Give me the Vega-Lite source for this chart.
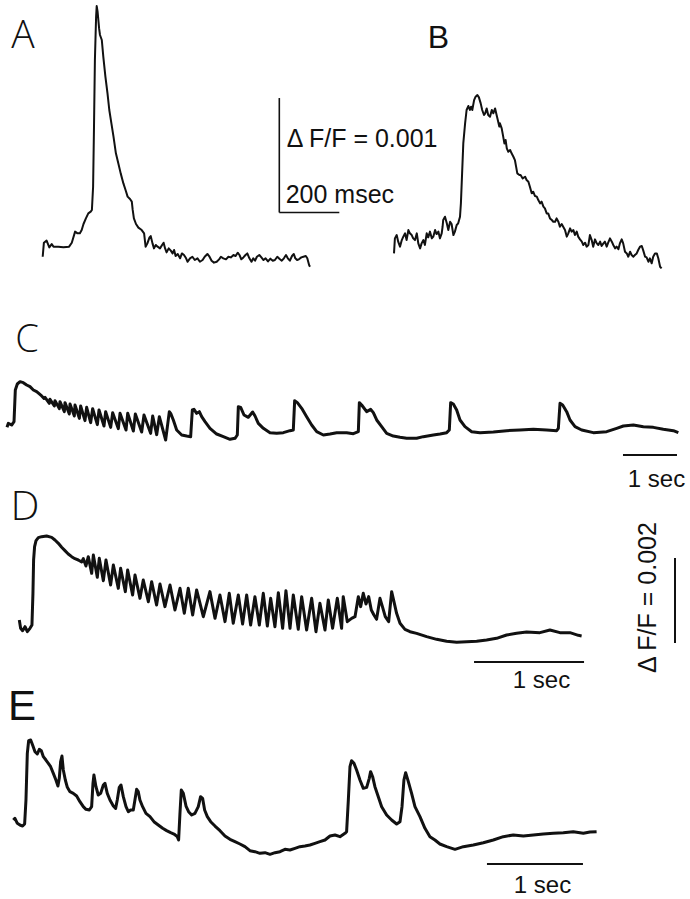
{
  "$schema": "https://vega.github.io/schema/vega-lite/v6.json",
  "padding": 0,
  "autosize": {"type": "pad"},
  "background": "white",
  "spacing": 0,
  "bounds": "flush",
  "config": {"view": {"stroke": null}, "concat": {"spacing": 0}},
  "datasets": {
    "traceA": [{"ms":0,"dff":-0.000085},{"ms":4,"dff":0.000038},{"ms":13,"dff":0.000056},{"ms":22,"dff":-0.000003},{"ms":30,"dff":0.000026},{"ms":36,"dff":0.000003},{"ms":52,"dff":0.000003},{"ms":69,"dff":-0.000003},{"ms":88,"dff":0.000003},{"ms":97,"dff":0.000038},{"ms":108,"dff":0.000135},{"ms":116,"dff":0.00012},{"ms":124,"dff":0.00012},{"ms":130,"dff":0.000149},{"ms":136,"dff":0.000202},{"ms":144,"dff":0.000251},{"ms":152,"dff":0.000295},{"ms":160,"dff":0.00031},{"ms":164,"dff":0.000325},{"ms":168,"dff":0.000529},{"ms":171,"dff":0.001056},{"ms":174,"dff":0.00164},{"ms":178,"dff":0.00202},{"ms":180,"dff":0.002114},{"ms":183,"dff":0.002064},{"ms":188,"dff":0.001918},{"ms":191,"dff":0.00186},{"ms":197,"dff":0.001816},{"ms":202,"dff":0.00167},{"ms":209,"dff":0.001494},{"ms":216,"dff":0.001348},{"ms":222,"dff":0.001202},{"ms":229,"dff":0.001085},{"ms":236,"dff":0.000968},{"ms":244,"dff":0.000822},{"ms":252,"dff":0.000734},{"ms":260,"dff":0.000646},{"ms":269,"dff":0.000558},{"ms":277,"dff":0.000494},{"ms":283,"dff":0.000442},{"ms":291,"dff":0.000421},{"ms":297,"dff":0.000398},{"ms":300,"dff":0.000325},{"ms":304,"dff":0.000251},{"ms":311,"dff":0.000202},{"ms":319,"dff":0.00017},{"ms":330,"dff":0.000149},{"ms":338,"dff":0.00012},{"ms":343,"dff":0.000003},{"ms":349,"dff":0.000032},{"ms":356,"dff":0.000085},{"ms":360,"dff":0.000096},{"ms":366,"dff":0.000032},{"ms":371,"dff":-0.000012},{"ms":377,"dff":0.000018},{"ms":383,"dff":0.000003},{"ms":391,"dff":-0.000012},{"ms":398,"dff":0.000018},{"ms":403,"dff":0.000038},{"ms":408,"dff":-0.000012},{"ms":413,"dff":-0.000047},{"ms":420,"dff":-0.000012},{"ms":427,"dff":-0.000032},{"ms":433,"dff":-0.000056},{"ms":438,"dff":-0.000026},{"ms":443,"dff":-0.000079},{"ms":450,"dff":-0.000061},{"ms":458,"dff":-0.000099},{"ms":464,"dff":-0.000056},{"ms":471,"dff":-0.00007},{"ms":478,"dff":-0.000099},{"ms":483,"dff":-0.000129},{"ms":491,"dff":-0.000099},{"ms":499,"dff":-0.000085},{"ms":507,"dff":-0.000114},{"ms":516,"dff":-0.000099},{"ms":524,"dff":-0.000129},{"ms":533,"dff":-0.000114},{"ms":540,"dff":-0.000085},{"ms":549,"dff":-0.000061},{"ms":556,"dff":-0.000085},{"ms":563,"dff":-0.00012},{"ms":571,"dff":-0.000137},{"ms":580,"dff":-0.000129},{"ms":588,"dff":-0.000108},{"ms":594,"dff":-0.000085},{"ms":602,"dff":-0.000099},{"ms":611,"dff":-0.000108},{"ms":619,"dff":-0.000085},{"ms":627,"dff":-0.000091},{"ms":636,"dff":-0.00007},{"ms":643,"dff":-0.000079},{"ms":650,"dff":-0.00005},{"ms":656,"dff":-0.00007},{"ms":662,"dff":-0.000108},{"ms":669,"dff":-0.000091},{"ms":676,"dff":-0.00007},{"ms":682,"dff":-0.000056},{"ms":689,"dff":-0.000099},{"ms":696,"dff":-0.000129},{"ms":702,"dff":-0.000099},{"ms":708,"dff":-0.00012},{"ms":714,"dff":-0.000085},{"ms":722,"dff":-0.00007},{"ms":729,"dff":-0.000091},{"ms":736,"dff":-0.000114},{"ms":743,"dff":-0.000099},{"ms":751,"dff":-0.000126},{"ms":759,"dff":-0.000102},{"ms":767,"dff":-0.00012},{"ms":774,"dff":-0.000114},{"ms":782,"dff":-0.000085},{"ms":789,"dff":-0.000102},{"ms":797,"dff":-0.00012},{"ms":804,"dff":-0.000099},{"ms":811,"dff":-0.00007},{"ms":817,"dff":-0.000099},{"ms":824,"dff":-0.00012},{"ms":831,"dff":-0.000079},{"ms":837,"dff":-0.000061},{"ms":842,"dff":-0.000099},{"ms":848,"dff":-0.000114},{"ms":854,"dff":-0.000108},{"ms":862,"dff":-0.000091},{"ms":869,"dff":-0.000085},{"ms":877,"dff":-0.000079},{"ms":882,"dff":-0.000099},{"ms":888,"dff":-0.000158},{"ms":891,"dff":-0.000173}],
    "traceB": [{"ms":0,"dff":-0.000056},{"ms":3,"dff":0.000076},{"ms":9,"dff":0.000105},{"ms":14,"dff":0.000047},{"ms":20,"dff":0.000003},{"ms":26,"dff":0.000061},{"ms":31,"dff":0.000091},{"ms":37,"dff":0.00012},{"ms":42,"dff":0.000061},{"ms":48,"dff":0.000149},{"ms":53,"dff":0.00012},{"ms":59,"dff":0.000105},{"ms":64,"dff":0.000076},{"ms":70,"dff":0.000061},{"ms":76,"dff":0.00012},{"ms":81,"dff":0.000032},{"ms":87,"dff":-0.000012},{"ms":92,"dff":0.000032},{"ms":98,"dff":0.000061},{"ms":103,"dff":0.000018},{"ms":109,"dff":0.00012},{"ms":114,"dff":0.000085},{"ms":120,"dff":0.000135},{"ms":126,"dff":0.000076},{"ms":131,"dff":0.000091},{"ms":137,"dff":0.000149},{"ms":142,"dff":0.000114},{"ms":148,"dff":0.000135},{"ms":153,"dff":0.000076},{"ms":159,"dff":0.00012},{"ms":162,"dff":0.000178},{"ms":164,"dff":0.000237},{"ms":170,"dff":0.000266},{"ms":176,"dff":0.000208},{"ms":181,"dff":0.000149},{"ms":187,"dff":0.000222},{"ms":192,"dff":0.000202},{"ms":198,"dff":0.000105},{"ms":203,"dff":0.000135},{"ms":209,"dff":0.000193},{"ms":214,"dff":0.000208},{"ms":220,"dff":0.000266},{"ms":223,"dff":0.000383},{"ms":227,"dff":0.000646},{"ms":231,"dff":0.000909},{"ms":237,"dff":0.001085},{"ms":242,"dff":0.001202},{"ms":248,"dff":0.001237},{"ms":253,"dff":0.001202},{"ms":257,"dff":0.001231},{"ms":261,"dff":0.001202},{"ms":267,"dff":0.001289},{"ms":272,"dff":0.001319},{"ms":278,"dff":0.001333},{"ms":283,"dff":0.001313},{"ms":289,"dff":0.00126},{"ms":294,"dff":0.001202},{"ms":300,"dff":0.001158},{"ms":304,"dff":0.001173},{"ms":309,"dff":0.001216},{"ms":314,"dff":0.001158},{"ms":320,"dff":0.001143},{"ms":326,"dff":0.001202},{"ms":331,"dff":0.001173},{"ms":337,"dff":0.001216},{"ms":342,"dff":0.001158},{"ms":346,"dff":0.001114},{"ms":351,"dff":0.001056},{"ms":353,"dff":0.001085},{"ms":359,"dff":0.001041},{"ms":364,"dff":0.000968},{"ms":368,"dff":0.000909},{"ms":372,"dff":0.000939},{"ms":376,"dff":0.000865},{"ms":381,"dff":0.000836},{"ms":387,"dff":0.000851},{"ms":392,"dff":0.000822},{"ms":398,"dff":0.000792},{"ms":403,"dff":0.000763},{"ms":407,"dff":0.000705},{"ms":411,"dff":0.000646},{"ms":418,"dff":0.000632},{"ms":422,"dff":0.000632},{"ms":429,"dff":0.000602},{"ms":437,"dff":0.000617},{"ms":442,"dff":0.000588},{"ms":448,"dff":0.000573},{"ms":453,"dff":0.000529},{"ms":459,"dff":0.000471},{"ms":464,"dff":0.000485},{"ms":470,"dff":0.000447},{"ms":476,"dff":0.000442},{"ms":481,"dff":0.000412},{"ms":487,"dff":0.000383},{"ms":492,"dff":0.000398},{"ms":498,"dff":0.000354},{"ms":503,"dff":0.000339},{"ms":509,"dff":0.000295},{"ms":514,"dff":0.000295},{"ms":520,"dff":0.000251},{"ms":526,"dff":0.000237},{"ms":531,"dff":0.000222},{"ms":537,"dff":0.000222},{"ms":542,"dff":0.000251},{"ms":548,"dff":0.000222},{"ms":553,"dff":0.000178},{"ms":559,"dff":0.000202},{"ms":564,"dff":0.000178},{"ms":570,"dff":0.000149},{"ms":576,"dff":0.000091},{"ms":581,"dff":0.00012},{"ms":587,"dff":0.000164},{"ms":592,"dff":0.000135},{"ms":598,"dff":0.000149},{"ms":603,"dff":0.000105},{"ms":609,"dff":0.000135},{"ms":614,"dff":0.000091},{"ms":620,"dff":0.000067},{"ms":626,"dff":0.000047},{"ms":631,"dff":0.000018},{"ms":637,"dff":0.000038},{"ms":642,"dff":0.000003},{"ms":648,"dff":0.000018},{"ms":653,"dff":0.000105},{"ms":659,"dff":0.000061},{"ms":664,"dff":0.000003},{"ms":670,"dff":0.000067},{"ms":676,"dff":0.000032},{"ms":681,"dff":0.000018},{"ms":687,"dff":0.000047},{"ms":692,"dff":0.000009},{"ms":698,"dff":0.000032},{"ms":703,"dff":0.000047},{"ms":709,"dff":0.000003},{"ms":714,"dff":0.000038},{"ms":720,"dff":0.000076},{"ms":726,"dff":0.000047},{"ms":731,"dff":0.000018},{"ms":737,"dff":-0.000012},{"ms":742,"dff":0.000003},{"ms":748,"dff":-0.00002},{"ms":753,"dff":0.000032},{"ms":759,"dff":0.000067},{"ms":764,"dff":0.000032},{"ms":770,"dff":-0.000041},{"ms":776,"dff":-0.000056},{"ms":781,"dff":-0.000085},{"ms":787,"dff":-0.000041},{"ms":792,"dff":-0.00007},{"ms":798,"dff":-0.000085},{"ms":803,"dff":-0.00007},{"ms":809,"dff":-0.000056},{"ms":814,"dff":-0.000026},{"ms":820,"dff":0.000003},{"ms":826,"dff":0.000009},{"ms":831,"dff":-0.000032},{"ms":837,"dff":-0.000085},{"ms":842,"dff":-0.000091},{"ms":848,"dff":-0.000129},{"ms":853,"dff":-0.000099},{"ms":859,"dff":-0.000143},{"ms":864,"dff":-0.000085},{"ms":870,"dff":-0.000056},{"ms":876,"dff":-0.000056},{"ms":881,"dff":-0.000099},{"ms":887,"dff":-0.000173},{"ms":892,"dff":-0.000187}],
    "traceC": [{"s":0,"dff":0.000133},{"s":0.025,"dff":0.000227},{"s":0.086,"dff":0.000188},{"s":0.13,"dff":0.000267},{"s":0.154,"dff":0.001012},{"s":0.191,"dff":0.001153},{"s":0.241,"dff":0.001208},{"s":0.302,"dff":0.001184},{"s":0.364,"dff":0.001129},{"s":0.426,"dff":0.00109},{"s":0.488,"dff":0.001012},{"s":0.549,"dff":0.000973},{"s":0.599,"dff":0.000918},{"s":0.642,"dff":0.000871},{"s":0.685,"dff":0.000816},{"s":0.704,"dff":0.000839},{"s":0.784,"dff":0.000698},{"s":0.796,"dff":0.000792},{"s":0.877,"dff":0.000635},{"s":0.889,"dff":0.000761},{"s":0.969,"dff":0.000573},{"s":0.981,"dff":0.000737},{"s":1.062,"dff":0.000502},{"s":1.074,"dff":0.000714},{"s":1.154,"dff":0.000447},{"s":1.167,"dff":0.000682},{"s":1.247,"dff":0.0004},{"s":1.259,"dff":0.000659},{"s":1.34,"dff":0.000345},{"s":1.364,"dff":0.000635},{"s":1.444,"dff":0.00029},{"s":1.475,"dff":0.000604},{"s":1.549,"dff":0.000243},{"s":1.586,"dff":0.000573},{"s":1.673,"dff":0.000196},{"s":1.704,"dff":0.000541},{"s":1.796,"dff":0.000165},{"s":1.827,"dff":0.000502},{"s":1.92,"dff":0.000133},{"s":1.957,"dff":0.000478},{"s":2.062,"dff":0.000102},{"s":2.093,"dff":0.000463},{"s":2.204,"dff":0.000071},{"s":2.235,"dff":0.000463},{"s":2.34,"dff":0.000047},{"s":2.377,"dff":0.000447},{"s":2.494,"dff":0.000024},{"s":2.537,"dff":0.000424},{"s":2.66,"dff":-0.000008},{"s":2.698,"dff":0.0004},{"s":2.772,"dff":-0.000039},{"s":2.821,"dff":0.000384},{"s":2.938,"dff":-0.000165},{"s":3.006,"dff":0.000502},{"s":3.031,"dff":0.000463},{"s":3.08,"dff":0.000306},{"s":3.142,"dff":0.000071},{"s":3.235,"dff":-0.000047},{"s":3.327,"dff":-0.000071},{"s":3.401,"dff":-0.000086},{"s":3.432,"dff":0.000541},{"s":3.463,"dff":0.000557},{"s":3.512,"dff":0.000463},{"s":3.562,"dff":0.000502},{"s":3.605,"dff":0.000384},{"s":3.667,"dff":0.000267},{"s":3.759,"dff":0.00011},{"s":3.883,"dff":-0.000024},{"s":4.006,"dff":-0.000086},{"s":4.13,"dff":-0.000149},{"s":4.222,"dff":-0.000125},{"s":4.265,"dff":-0.000047},{"s":4.284,"dff":0.00062},{"s":4.327,"dff":0.000604},{"s":4.389,"dff":0.000424},{"s":4.469,"dff":0.000369},{"s":4.549,"dff":0.000494},{"s":4.593,"dff":0.0004},{"s":4.654,"dff":0.000227},{"s":4.747,"dff":0.00011},{"s":4.87,"dff":0.000008},{"s":4.994,"dff":-0.000008},{"s":5.117,"dff":0.000008},{"s":5.241,"dff":0.000055},{"s":5.302,"dff":0.000071},{"s":5.327,"dff":0.000761},{"s":5.377,"dff":0.000714},{"s":5.457,"dff":0.00058},{"s":5.549,"dff":0.000384},{"s":5.642,"dff":0.000188},{"s":5.735,"dff":0.000031},{"s":5.858,"dff":-0.000047},{"s":5.981,"dff":-0.000024},{"s":6.105,"dff":0.000008},{"s":6.29,"dff":0.000008},{"s":6.414,"dff":-0.000016},{"s":6.506,"dff":0.000031},{"s":6.525,"dff":0.000714},{"s":6.568,"dff":0.000659},{"s":6.66,"dff":0.000502},{"s":6.735,"dff":0.000557},{"s":6.784,"dff":0.000478},{"s":6.846,"dff":0.000306},{"s":6.938,"dff":0.000149},{"s":7.031,"dff":-0.000008},{"s":7.154,"dff":-0.000071},{"s":7.278,"dff":-0.000102},{"s":7.401,"dff":-0.000125},{"s":7.586,"dff":-0.000125},{"s":7.71,"dff":-0.000086},{"s":7.895,"dff":-0.000047},{"s":8.019,"dff":-0.000024},{"s":8.142,"dff":0.000008},{"s":8.191,"dff":0.000071},{"s":8.216,"dff":0.000714},{"s":8.265,"dff":0.000682},{"s":8.327,"dff":0.000541},{"s":8.389,"dff":0.000306},{"s":8.481,"dff":0.000149},{"s":8.605,"dff":0.000031},{"s":8.759,"dff":0.000008},{"s":9.006,"dff":0.000024},{"s":9.253,"dff":0.000055},{"s":9.5,"dff":0.000071},{"s":9.747,"dff":0.000086},{"s":9.994,"dff":0.000071},{"s":10.179,"dff":0.000055},{"s":10.21,"dff":0.00011},{"s":10.241,"dff":0.000698},{"s":10.29,"dff":0.000659},{"s":10.364,"dff":0.000502},{"s":10.426,"dff":0.000306},{"s":10.519,"dff":0.000149},{"s":10.642,"dff":0.000071},{"s":10.858,"dff":0.000008},{"s":11.105,"dff":0.000031},{"s":11.29,"dff":0.00011},{"s":11.414,"dff":0.000165},{"s":11.599,"dff":0.000188},{"s":11.784,"dff":0.000149},{"s":11.969,"dff":0.000133},{"s":12.154,"dff":0.000086},{"s":12.34,"dff":0.000055},{"s":12.432,"dff":0.000008}],
    "traceD": [{"s":0,"dff":0.0004},{"s":0.012,"dff":0.000204},{"s":0.03,"dff":0.000149},{"s":0.052,"dff":0.000243},{"s":0.073,"dff":0.000125},{"s":0.097,"dff":0.000204},{"s":0.115,"dff":0.000282},{"s":0.124,"dff":0.001027},{"s":0.13,"dff":0.001812},{"s":0.139,"dff":0.002125},{"s":0.152,"dff":0.002267},{"s":0.173,"dff":0.002337},{"s":0.203,"dff":0.002361},{"s":0.248,"dff":0.002376},{"s":0.294,"dff":0.002345},{"s":0.324,"dff":0.002282},{"s":0.355,"dff":0.002204},{"s":0.385,"dff":0.00211},{"s":0.415,"dff":0.002031},{"s":0.445,"dff":0.001953},{"s":0.476,"dff":0.00189},{"s":0.506,"dff":0.001843},{"s":0.536,"dff":0.001812},{"s":0.567,"dff":0.001765},{"s":0.582,"dff":0.001843},{"s":0.606,"dff":0.001671},{"s":0.627,"dff":0.00189},{"s":0.658,"dff":0.001498},{"s":0.673,"dff":0.001929},{"s":0.709,"dff":0.001404},{"s":0.727,"dff":0.001851},{"s":0.764,"dff":0.001325},{"s":0.788,"dff":0.001812},{"s":0.83,"dff":0.001224},{"s":0.855,"dff":0.001694},{"s":0.9,"dff":0.001145},{"s":0.921,"dff":0.001616},{"s":0.964,"dff":0.001067},{"s":0.985,"dff":0.001576},{"s":1.03,"dff":0.000988},{"s":1.052,"dff":0.001459},{"s":1.097,"dff":0.00091},{"s":1.127,"dff":0.001341},{"s":1.173,"dff":0.000831},{"s":1.203,"dff":0.001302},{"s":1.248,"dff":0.000753},{"s":1.279,"dff":0.001247},{"s":1.324,"dff":0.000714},{"s":1.37,"dff":0.001224},{"s":1.415,"dff":0.000635},{"s":1.461,"dff":0.001145},{"s":1.5,"dff":0.000557},{"s":1.536,"dff":0.001145},{"s":1.576,"dff":0.000518},{"s":1.612,"dff":0.001106},{"s":1.673,"dff":0.000478},{"s":1.733,"dff":0.001067},{"s":1.779,"dff":0.000439},{"s":1.824,"dff":0.000988},{"s":1.87,"dff":0.000361},{"s":1.909,"dff":0.001027},{"s":1.945,"dff":0.000322},{"s":1.991,"dff":0.000988},{"s":2.03,"dff":0.000306},{"s":2.067,"dff":0.000988},{"s":2.103,"dff":0.000282},{"s":2.142,"dff":0.000949},{"s":2.182,"dff":0.000282},{"s":2.218,"dff":0.001027},{"s":2.255,"dff":0.000259},{"s":2.285,"dff":0.00091},{"s":2.324,"dff":0.000243},{"s":2.355,"dff":0.001043},{"s":2.394,"dff":0.000204},{"s":2.424,"dff":0.00109},{"s":2.461,"dff":0.000204},{"s":2.491,"dff":0.000988},{"s":2.536,"dff":0.00018},{"s":2.567,"dff":0.000949},{"s":2.612,"dff":0.000165},{"s":2.658,"dff":0.00091},{"s":2.697,"dff":0.000125},{"s":2.733,"dff":0.000792},{"s":2.779,"dff":0.000165},{"s":2.809,"dff":0.000871},{"s":2.848,"dff":0.000204},{"s":2.891,"dff":0.00091},{"s":2.93,"dff":0.000204},{"s":2.945,"dff":0.000949},{"s":2.982,"dff":0.000361},{"s":3.021,"dff":0.000439},{"s":3.052,"dff":0.000478},{"s":3.082,"dff":0.000949},{"s":3.103,"dff":0.000714},{"s":3.127,"dff":0.001027},{"s":3.152,"dff":0.000776},{"s":3.176,"dff":0.000949},{"s":3.2,"dff":0.000635},{"s":3.224,"dff":0.000518},{"s":3.248,"dff":0.000416},{"s":3.279,"dff":0.00091},{"s":3.303,"dff":0.000698},{"s":3.327,"dff":0.000478},{"s":3.358,"dff":0.000361},{"s":3.385,"dff":0.001067},{"s":3.406,"dff":0.000831},{"s":3.43,"dff":0.000557},{"s":3.461,"dff":0.000322},{"s":3.506,"dff":0.00018},{"s":3.552,"dff":0.000125},{"s":3.612,"dff":0.000086},{"s":3.703,"dff":0.000008},{"s":3.794,"dff":-0.000055},{"s":3.885,"dff":-0.000102},{"s":3.976,"dff":-0.000125},{"s":4.067,"dff":-0.00011},{"s":4.158,"dff":-0.000102},{"s":4.248,"dff":-0.000071},{"s":4.339,"dff":-0.000031},{"s":4.43,"dff":0.000047},{"s":4.521,"dff":0.000086},{"s":4.612,"dff":0.000118},{"s":4.733,"dff":0.000102},{"s":4.824,"dff":0.000165},{"s":4.915,"dff":0.000102},{"s":5.006,"dff":0.000102},{"s":5.082,"dff":0.000039},{"s":5.112,"dff":0.000024}],
    "traceE": [{"s":0,"dff":0.000471},{"s":0.017,"dff":0.00051},{"s":0.042,"dff":0.000392},{"s":0.069,"dff":0.000353},{"s":0.097,"dff":0.000329},{"s":0.118,"dff":0.000376},{"s":0.132,"dff":0.000941},{"s":0.146,"dff":0.002039},{"s":0.16,"dff":0.002337},{"s":0.181,"dff":0.002353},{"s":0.201,"dff":0.002235},{"s":0.226,"dff":0.002078},{"s":0.25,"dff":0.002024},{"s":0.271,"dff":0.002133},{"s":0.292,"dff":0.002102},{"s":0.313,"dff":0.001961},{"s":0.34,"dff":0.001882},{"s":0.365,"dff":0.001804},{"s":0.389,"dff":0.001725},{"s":0.417,"dff":0.001569},{"s":0.444,"dff":0.001412},{"s":0.465,"dff":0.001271},{"s":0.479,"dff":0.001451},{"s":0.493,"dff":0.001843},{"s":0.507,"dff":0.001976},{"s":0.521,"dff":0.001647},{"s":0.542,"dff":0.001412},{"s":0.563,"dff":0.001239},{"s":0.59,"dff":0.001137},{"s":0.625,"dff":0.001098},{"s":0.66,"dff":0.001035},{"s":0.694,"dff":0.000902},{"s":0.729,"dff":0.000784},{"s":0.757,"dff":0.000722},{"s":0.792,"dff":0.000706},{"s":0.816,"dff":0.000784},{"s":0.83,"dff":0.001333},{"s":0.84,"dff":0.001529},{"s":0.861,"dff":0.001255},{"s":0.885,"dff":0.001059},{"s":0.91,"dff":0.001098},{"s":0.938,"dff":0.001294},{"s":0.955,"dff":0.001333},{"s":0.979,"dff":0.001098},{"s":1.007,"dff":0.000941},{"s":1.042,"dff":0.0008},{"s":1.066,"dff":0.000745},{"s":1.083,"dff":0.000941},{"s":1.104,"dff":0.001239},{"s":1.122,"dff":0.001294},{"s":1.146,"dff":0.00102},{"s":1.174,"dff":0.000784},{"s":1.198,"dff":0.000667},{"s":1.222,"dff":0.000706},{"s":1.25,"dff":0.000706},{"s":1.267,"dff":0.000941},{"s":1.285,"dff":0.001192},{"s":1.302,"dff":0.001137},{"s":1.319,"dff":0.000941},{"s":1.347,"dff":0.000784},{"s":1.382,"dff":0.000627},{"s":1.424,"dff":0.000549},{"s":1.465,"dff":0.000431},{"s":1.51,"dff":0.000353},{"s":1.556,"dff":0.000275},{"s":1.597,"dff":0.00022},{"s":1.639,"dff":0.000173},{"s":1.674,"dff":0.000141},{"s":1.708,"dff":0.000078},{"s":1.722,"dff":0},{"s":1.736,"dff":0.000627},{"s":1.75,"dff":0.001176},{"s":1.771,"dff":0.001098},{"s":1.799,"dff":0.0008},{"s":1.826,"dff":0.000667},{"s":1.858,"dff":0.000588},{"s":1.892,"dff":0.000627},{"s":1.927,"dff":0.000784},{"s":1.951,"dff":0.00102},{"s":1.972,"dff":0.00098},{"s":1.993,"dff":0.000706},{"s":2.021,"dff":0.000549},{"s":2.056,"dff":0.000431},{"s":2.101,"dff":0.000329},{"s":2.153,"dff":0.00022},{"s":2.205,"dff":0.000094},{"s":2.257,"dff":0.000016},{"s":2.309,"dff":-0.000039},{"s":2.361,"dff":-0.000094},{"s":2.413,"dff":-0.000157},{"s":2.465,"dff":-0.000251},{"s":2.517,"dff":-0.000275},{"s":2.569,"dff":-0.000314},{"s":2.622,"dff":-0.000298},{"s":2.674,"dff":-0.000337},{"s":2.726,"dff":-0.000298},{"s":2.778,"dff":-0.000275},{"s":2.83,"dff":-0.00022},{"s":2.882,"dff":-0.000235},{"s":2.934,"dff":-0.000196},{"s":2.986,"dff":-0.000157},{"s":3.038,"dff":-0.000141},{"s":3.09,"dff":-0.000118},{"s":3.142,"dff":-0.000078},{"s":3.194,"dff":-0.000039},{"s":3.247,"dff":0},{"s":3.299,"dff":0.000094},{"s":3.351,"dff":0.000118},{"s":3.403,"dff":0.000078},{"s":3.455,"dff":0.000157},{"s":3.472,"dff":0.000196},{"s":3.49,"dff":0.000941},{"s":3.507,"dff":0.001725},{"s":3.524,"dff":0.001867},{"s":3.549,"dff":0.001804},{"s":3.576,"dff":0.001647},{"s":3.611,"dff":0.001412},{"s":3.646,"dff":0.001216},{"s":3.681,"dff":0.001239},{"s":3.708,"dff":0.001451},{"s":3.722,"dff":0.001608},{"s":3.743,"dff":0.00149},{"s":3.767,"dff":0.001255},{"s":3.802,"dff":0.00102},{"s":3.837,"dff":0.000784},{"s":3.889,"dff":0.000588},{"s":3.941,"dff":0.000471},{"s":3.993,"dff":0.000376},{"s":4.028,"dff":0.000431},{"s":4.049,"dff":0.000784},{"s":4.069,"dff":0.001412},{"s":4.087,"dff":0.001584},{"s":4.115,"dff":0.001373},{"s":4.149,"dff":0.001098},{"s":4.184,"dff":0.000784},{"s":4.236,"dff":0.000549},{"s":4.288,"dff":0.000275},{"s":4.34,"dff":0.000078},{"s":4.392,"dff":0},{"s":4.444,"dff":-0.000094},{"s":4.514,"dff":-0.000157},{"s":4.601,"dff":-0.00022},{"s":4.688,"dff":-0.000157},{"s":4.792,"dff":-0.000118},{"s":4.896,"dff":-0.000063},{"s":5.0,"dff":0},{"s":5.104,"dff":0.000078},{"s":5.208,"dff":0.000118},{"s":5.313,"dff":0.000094},{"s":5.417,"dff":0.000118},{"s":5.521,"dff":0.000141},{"s":5.625,"dff":0.000157},{"s":5.729,"dff":0.000173},{"s":5.833,"dff":0.000196},{"s":5.938,"dff":0.000157},{"s":6.007,"dff":0.000188},{"s":6.076,"dff":0.000196}]
  },
  "vconcat": [
    {
      "width": 690,
      "height": 290,
      "resolve": {"scale": {"x": "independent"}},
      "layer": [
        {
          "data": {"name": "traceA"},
          "mark": {"type": "line", "color": "#111", "strokeWidth": 2, "strokeJoin": "round"},
          "encoding": {
            "x": {"field": "ms", "type": "quantitative", "scale": {"domain": [-142.33, 2157.67], "nice": false, "zero": false}, "axis": null},
            "y": {"field": "dff", "type": "quantitative", "scale": {"domain": [-0.000377, 0.002167], "nice": false, "zero": false}, "axis": null}
          }
        },
        {
          "data": {"values": [{"ms0": 788.7, "ms1": 788.7, "dff0": 0.000303, "dff1": 0.001307}, {"ms0": 788.7, "ms1": 988.7, "dff0": 0.000303, "dff1": 0.000303}]},
          "mark": {"type": "rule", "color": "#111", "strokeWidth": 1.6},
          "encoding": {
            "x": {"field": "ms0", "type": "quantitative", "scale": {"domain": [-142.33, 2157.67], "nice": false, "zero": false}, "axis": null},
            "x2": {"field": "ms1"},
            "y": {"field": "dff0", "type": "quantitative", "scale": {"domain": [-0.000377, 0.002167], "nice": false, "zero": false}, "axis": null},
            "y2": {"field": "dff1"}
          }
        },
        {
          "data": {"values": [{"ms": -65.7, "dff": 0.001746, "label": "A"}]},
          "mark": {"type": "text", "font": "Open Sans", "fontWeight": 300, "fontSize": 39, "align": "center", "baseline": "alphabetic", "color": "#111"},
          "encoding": {
            "x": {"field": "ms", "type": "quantitative", "scale": {"domain": [-142.33, 2157.67], "nice": false, "zero": false}, "axis": null},
            "y": {"field": "dff", "type": "quantitative", "scale": {"domain": [-0.000377, 0.002167], "nice": false, "zero": false}, "axis": null},
            "text": {"field": "label"}
          }
        },
        {
          "data": {"values": [{"ms": 813.3, "dff": 0.000877, "label": "Δ F/F = 0.001"}, {"ms": 810, "dff": 0.000386, "label": "200 msec"}]},
          "mark": {"type": "text", "font": "Liberation Sans", "fontSize": 25, "align": "left", "baseline": "alphabetic", "color": "#111"},
          "encoding": {
            "x": {"field": "ms", "type": "quantitative", "scale": {"domain": [-142.33, 2157.67], "nice": false, "zero": false}, "axis": null},
            "y": {"field": "dff", "type": "quantitative", "scale": {"domain": [-0.000377, 0.002167], "nice": false, "zero": false}, "axis": null},
            "text": {"field": "label"}
          }
        },
        {
          "data": {"name": "traceB"},
          "mark": {"type": "line", "color": "#111", "strokeWidth": 2, "strokeJoin": "round"},
          "encoding": {
            "x": {"field": "ms", "type": "quantitative", "scale": {"domain": [-1313.33, 986.67], "nice": false, "zero": false}, "axis": null},
            "y": {"field": "dff", "type": "quantitative", "scale": {"domain": [-0.000377, 0.002167], "nice": false, "zero": false}, "axis": null}
          }
        },
        {
          "data": {"values": [{"ms": 148.3, "dff": 0.001746, "label": "B"}]},
          "mark": {"type": "text", "font": "Liberation Sans", "fontSize": 32, "align": "center", "baseline": "alphabetic", "color": "#111"},
          "encoding": {
            "x": {"field": "ms", "type": "quantitative", "scale": {"domain": [-1313.33, 986.67], "nice": false, "zero": false}, "axis": null},
            "y": {"field": "dff", "type": "quantitative", "scale": {"domain": [-0.000377, 0.002167], "nice": false, "zero": false}, "axis": null},
            "text": {"field": "label"}
          }
        }
      ]
    },
    {
      "width": 690,
      "height": 190,
      "layer": [
        {
          "data": {"name": "traceC"},
          "mark": {"type": "line", "color": "#111", "strokeWidth": 3, "strokeJoin": "round"},
          "encoding": {
            "x": {"field": "s", "type": "quantitative", "scale": {"domain": [-0.1296, 12.648], "nice": false, "zero": false}, "axis": null},
            "y": {"field": "dff", "type": "quantitative", "scale": {"domain": [-0.001106, 0.003365], "nice": false, "zero": false}, "axis": null}
          }
        },
        {
          "data": {"values": [{"s0": 11.407, "s1": 12.407, "dff0": -0.000518, "dff1": -0.000518}]},
          "mark": {"type": "rule", "color": "#111", "strokeWidth": 2},
          "encoding": {
            "x": {"field": "s0", "type": "quantitative", "scale": {"domain": [-0.1296, 12.648], "nice": false, "zero": false}, "axis": null},
            "x2": {"field": "s1"},
            "y": {"field": "dff0", "type": "quantitative", "scale": {"domain": [-0.001106, 0.003365], "nice": false, "zero": false}, "axis": null},
            "y2": {"field": "dff1"}
          }
        },
        {
          "data": {"values": [{"s": 12.028, "dff": -0.001271, "label": "1 sec"}]},
          "mark": {"type": "text", "font": "Liberation Sans", "fontSize": 24, "align": "center", "baseline": "alphabetic", "color": "#111"},
          "encoding": {
            "x": {"field": "s", "type": "quantitative", "scale": {"domain": [-0.1296, 12.648], "nice": false, "zero": false}, "axis": null},
            "y": {"field": "dff", "type": "quantitative", "scale": {"domain": [-0.001106, 0.003365], "nice": false, "zero": false}, "axis": null},
            "text": {"field": "label"}
          }
        },
        {
          "data": {"values": [{"s": 0.37, "dff": 0.001906, "label": "C"}]},
          "mark": {"type": "text", "font": "Open Sans", "fontWeight": 300, "fontSize": 38, "align": "center", "baseline": "alphabetic", "color": "#111"},
          "encoding": {
            "x": {"field": "s", "type": "quantitative", "scale": {"domain": [-0.1296, 12.648], "nice": false, "zero": false}, "axis": null},
            "y": {"field": "dff", "type": "quantitative", "scale": {"domain": [-0.001106, 0.003365], "nice": false, "zero": false}, "axis": null},
            "text": {"field": "label"}
          }
        }
      ]
    },
    {
      "width": 690,
      "height": 200,
      "layer": [
        {
          "data": {"name": "traceD"},
          "mark": {"type": "line", "color": "#111", "strokeWidth": 3, "strokeJoin": "round"},
          "encoding": {
            "x": {"field": "s", "type": "quantitative", "scale": {"domain": [-0.1755, 6.0973], "nice": false, "zero": false}, "axis": null},
            "y": {"field": "dff", "type": "quantitative", "scale": {"domain": [-0.001012, 0.003694], "nice": false, "zero": false}, "axis": null}
          }
        },
        {
          "data": {"values": [{"s0": 4.134, "s1": 5.134, "dff0": -0.000588, "dff1": -0.000588}, {"s0": 5.961, "s1": 5.961, "dff0": -0.000141, "dff1": 0.001859}]},
          "mark": {"type": "rule", "color": "#111", "strokeWidth": 2},
          "encoding": {
            "x": {"field": "s0", "type": "quantitative", "scale": {"domain": [-0.1755, 6.0973], "nice": false, "zero": false}, "axis": null},
            "x2": {"field": "s1"},
            "y": {"field": "dff0", "type": "quantitative", "scale": {"domain": [-0.001012, 0.003694], "nice": false, "zero": false}, "axis": null},
            "y2": {"field": "dff1"}
          }
        },
        {
          "data": {"values": [{"s": 4.747, "dff": -0.0012, "label": "1 sec"}]},
          "mark": {"type": "text", "font": "Liberation Sans", "fontSize": 24, "align": "center", "baseline": "alphabetic", "color": "#111"},
          "encoding": {
            "x": {"field": "s", "type": "quantitative", "scale": {"domain": [-0.1755, 6.0973], "nice": false, "zero": false}, "axis": null},
            "y": {"field": "dff", "type": "quantitative", "scale": {"domain": [-0.001012, 0.003694], "nice": false, "zero": false}, "axis": null},
            "text": {"field": "label"}
          }
        },
        {
          "data": {"values": [{"s": 5.72, "dff": 0.000929, "label": "Δ F/F = 0.002"}]},
          "mark": {"type": "text", "font": "Liberation Sans", "fontSize": 25, "angle": 270, "align": "center", "baseline": "middle", "color": "#111"},
          "encoding": {
            "x": {"field": "s", "type": "quantitative", "scale": {"domain": [-0.1755, 6.0973], "nice": false, "zero": false}, "axis": null},
            "y": {"field": "dff", "type": "quantitative", "scale": {"domain": [-0.001012, 0.003694], "nice": false, "zero": false}, "axis": null},
            "text": {"field": "label"}
          }
        },
        {
          "data": {"values": [{"s": 0.052, "dff": 0.002753, "label": "D"}]},
          "mark": {"type": "text", "font": "Open Sans", "fontWeight": 300, "fontSize": 41, "align": "center", "baseline": "alphabetic", "color": "#111"},
          "encoding": {
            "x": {"field": "s", "type": "quantitative", "scale": {"domain": [-0.1755, 6.0973], "nice": false, "zero": false}, "axis": null},
            "y": {"field": "dff", "type": "quantitative", "scale": {"domain": [-0.001012, 0.003694], "nice": false, "zero": false}, "axis": null},
            "text": {"field": "label"}
          }
        }
      ]
    },
    {
      "width": 690,
      "height": 219,
      "layer": [
        {
          "data": {"name": "traceE"},
          "mark": {"type": "line", "color": "#111", "strokeWidth": 3, "strokeJoin": "round"},
          "encoding": {
            "x": {"field": "s", "type": "quantitative", "scale": {"domain": [-0.1385, 7.049], "nice": false, "zero": false}, "axis": null},
            "y": {"field": "dff", "type": "quantitative", "scale": {"domain": [-0.001388, 0.003765], "nice": false, "zero": false}, "axis": null}
          }
        },
        {
          "data": {"values": [{"s0": 4.934, "s1": 5.934, "dff0": -0.000565, "dff1": -0.000565}]},
          "mark": {"type": "rule", "color": "#111", "strokeWidth": 2},
          "encoding": {
            "x": {"field": "s0", "type": "quantitative", "scale": {"domain": [-0.1385, 7.049], "nice": false, "zero": false}, "axis": null},
            "x2": {"field": "s1"},
            "y": {"field": "dff0", "type": "quantitative", "scale": {"domain": [-0.001388, 0.003765], "nice": false, "zero": false}, "axis": null},
            "y2": {"field": "dff1"}
          }
        },
        {
          "data": {"values": [{"s": 5.513, "dff": -0.001247, "label": "1 sec"}]},
          "mark": {"type": "text", "font": "Liberation Sans", "fontSize": 24, "align": "center", "baseline": "alphabetic", "color": "#111"},
          "encoding": {
            "x": {"field": "s", "type": "quantitative", "scale": {"domain": [-0.1385, 7.049], "nice": false, "zero": false}, "axis": null},
            "y": {"field": "dff", "type": "quantitative", "scale": {"domain": [-0.001388, 0.003765], "nice": false, "zero": false}, "axis": null},
            "text": {"field": "label"}
          }
        },
        {
          "data": {"values": [{"s": 0.091, "dff": 0.002824, "label": "E"}]},
          "mark": {"type": "text", "font": "Liberation Sans", "fontSize": 42, "align": "center", "baseline": "alphabetic", "color": "#111"},
          "encoding": {
            "x": {"field": "s", "type": "quantitative", "scale": {"domain": [-0.1385, 7.049], "nice": false, "zero": false}, "axis": null},
            "y": {"field": "dff", "type": "quantitative", "scale": {"domain": [-0.001388, 0.003765], "nice": false, "zero": false}, "axis": null},
            "text": {"field": "label"}
          }
        }
      ]
    }
  ]
}
